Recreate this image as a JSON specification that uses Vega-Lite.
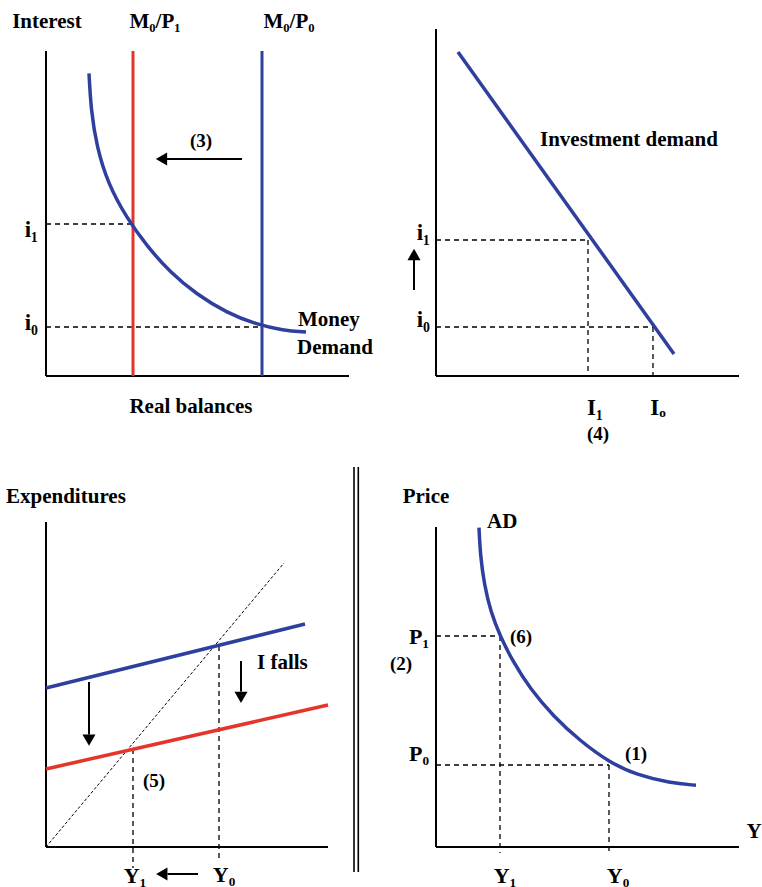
{
  "$schema": "https://vega.github.io/schema/vega-lite/v6.json",
  "padding": 0,
  "config": {
    "view": {"stroke": null},
    "concat": {"spacing": 0},
    "text": {"font": "Times New Roman, Liberation Serif, DejaVu Serif, serif", "fontWeight": "bold", "fontSize": 21, "color": "black", "baseline": "middle"}
  },
  "vconcat": [
    {
      "spacing": 0,
      "hconcat": [
        {
          "width": 381, "height": 443,
          "encoding": {
            "x": {"field": "x", "type": "quantitative", "scale": {"domain": [-15.333, 111.667], "nice": false, "zero": false}, "axis": null},
            "y": {"field": "y", "type": "quantitative", "scale": {"domain": [-22.333, 125.333], "nice": false, "zero": false}, "axis": null}
          },
          "layer": [
            {"data": {"values": [{"x": 0, "y": 0, "x2": 0, "y2": 108.33}, {"x": 0, "y": 0, "x2": 101, "y2": 0}]},
             "mark": {"type": "rule", "strokeWidth": 2, "color": "black"},
             "encoding": {"x2": {"field": "x2"}, "y2": {"field": "y2"}}},
            {"data": {"values": [{"x": 0, "y": 50.67, "x2": 29, "y2": 50.67}, {"x": 0, "y": 16.33, "x2": 72, "y2": 16.33}]},
             "mark": {"type": "rule", "strokeWidth": 1.3, "color": "black", "strokeDash": [5, 4]},
             "encoding": {"x2": {"field": "x2"}, "y2": {"field": "y2"}}},
            {"data": {"values": [{"x": 29, "y": 0, "x2": 29, "y2": 108.33}]},
             "mark": {"type": "rule", "strokeWidth": 3, "color": "#E5352B"},
             "encoding": {"x2": {"field": "x2"}, "y2": {"field": "y2"}}},
            {"data": {"values": [{"x": 72, "y": 0, "x2": 72, "y2": 108.33}]},
             "mark": {"type": "rule", "strokeWidth": 3, "color": "#2F3F9E"},
             "encoding": {"x2": {"field": "x2"}, "y2": {"field": "y2"}}},
            {"data": {"values": [
              {"x": 14.33, "y": 100.9}, {"x": 15.0, "y": 88.67}, {"x": 16.9, "y": 76.43}, {"x": 20.6, "y": 64.23},
              {"x": 27.0, "y": 52.5}, {"x": 33.57, "y": 43.4}, {"x": 41.33, "y": 34.6}, {"x": 50.23, "y": 27.2},
              {"x": 60.23, "y": 21.1}, {"x": 70, "y": 17.2}, {"x": 79.1, "y": 15.2}, {"x": 86.67, "y": 14.67}]},
             "mark": {"type": "line", "strokeWidth": 3.5, "color": "#2F3F9E", "interpolate": "basis"},
             "encoding": {"order": {"field": "x", "type": "quantitative"}}},
            {"data": {"values": [{"x": 65.33, "y": 72.33, "x2": 40, "y2": 72.33}]},
             "mark": {"type": "rule", "strokeWidth": 2, "color": "black"},
             "encoding": {"x2": {"field": "x2"}, "y2": {"field": "y2"}}},
            {"data": {"values": [{"x": 38.5, "y": 72.33, "dir": "left"}]},
             "mark": {"type": "point", "filled": true, "color": "black", "size": 170, "opacity": 1},
             "encoding": {"shape": {"field": "dir", "type": "nominal", "scale": {"domain": ["left", "up", "down"], "range": ["triangle-left", "triangle-up", "triangle-down"]}, "legend": null}}},
            {"data": {"values": [
              {"x": 0.33, "y": 118, "t": "Interest"}, {"x": 36.33, "y": 118, "t": "M₀/P₁"}, {"x": 81, "y": 118, "t": "M₀/P₀"},
              {"x": 48.33, "y": -10.33, "t": "Real balances"}]},
             "mark": {"type": "text", "align": "center"},
             "encoding": {"text": {"field": "t"}}},
            {"data": {"values": [{"x": 51.67, "y": 78.33, "t": "(3)"}]},
             "mark": {"type": "text", "align": "center", "fontSize": 19},
             "encoding": {"text": {"field": "t"}}},
            {"data": {"values": [{"x": -2.67, "y": 48.67, "t": "i₁"}, {"x": -2.67, "y": 17.67, "t": "i₀"}]},
             "mark": {"type": "text", "align": "right", "fontSize": 23},
             "encoding": {"text": {"field": "t"}}},
            {"data": {"values": [{"x": 84, "y": 18.67, "t": "Money"}, {"x": 83.67, "y": 9.33, "t": "Demand"}]},
             "mark": {"type": "text", "align": "left"},
             "encoding": {"text": {"field": "t"}}}
          ]
        },
        {
          "width": 381, "height": 443,
          "encoding": {
            "x": {"field": "x", "type": "quantitative", "scale": {"domain": [-18.333, 108.667], "nice": false, "zero": false}, "axis": null},
            "y": {"field": "y", "type": "quantitative", "scale": {"domain": [-22.333, 125.333], "nice": false, "zero": false}, "axis": null}
          },
          "layer": [
            {"data": {"values": [{"x": 0, "y": 0, "x2": 0, "y2": 115.67}, {"x": 0, "y": 0, "x2": 101, "y2": 0}]},
             "mark": {"type": "rule", "strokeWidth": 2, "color": "black"},
             "encoding": {"x2": {"field": "x2"}, "y2": {"field": "y2"}}},
            {"data": {"values": [
              {"x": 0, "y": 45.33, "x2": 50.67, "y2": 45.33}, {"x": 50.67, "y": 45.33, "x2": 50.67, "y2": 0},
              {"x": 0, "y": 16.33, "x2": 72.33, "y2": 16.33}, {"x": 72.33, "y": 16.33, "x2": 72.33, "y2": 0}]},
             "mark": {"type": "rule", "strokeWidth": 1.3, "color": "black", "strokeDash": [5, 4]},
             "encoding": {"x2": {"field": "x2"}, "y2": {"field": "y2"}}},
            {"data": {"values": [{"x": 7.33, "y": 108, "x2": 79.33, "y2": 7.33}]},
             "mark": {"type": "rule", "strokeWidth": 3.5, "color": "#2F3F9E"},
             "encoding": {"x2": {"field": "x2"}, "y2": {"field": "y2"}}},
            {"data": {"values": [{"x": -7.33, "y": 28.67, "x2": -7.33, "y2": 39}]},
             "mark": {"type": "rule", "strokeWidth": 2, "color": "black"},
             "encoding": {"x2": {"field": "x2"}, "y2": {"field": "y2"}}},
            {"data": {"values": [{"x": -7.33, "y": 40.5, "dir": "up"}]},
             "mark": {"type": "point", "filled": true, "color": "black", "size": 170, "opacity": 1},
             "encoding": {"shape": {"field": "dir", "type": "nominal", "scale": {"domain": ["left", "up", "down"], "range": ["triangle-left", "triangle-up", "triangle-down"]}, "legend": null}}},
            {"data": {"values": [
              {"x": 64.33, "y": 78.67, "t": "Investment demand"}]},
             "mark": {"type": "text", "align": "center"},
             "encoding": {"text": {"field": "t"}}},
            {"data": {"values": [{"x": 53, "y": -10.67, "t": "I₁"}, {"x": 74, "y": -10.67, "t": "Iₒ"}]},
             "mark": {"type": "text", "align": "center", "fontSize": 23},
             "encoding": {"text": {"field": "t"}}},
            {"data": {"values": [{"x": 54, "y": -19.3, "t": "(4)"}]},
             "mark": {"type": "text", "align": "center", "fontSize": 19},
             "encoding": {"text": {"field": "t"}}},
            {"data": {"values": [{"x": -2, "y": 47.67, "t": "i₁"}, {"x": -2, "y": 18.67, "t": "i₀"}]},
             "mark": {"type": "text", "align": "right", "fontSize": 23},
             "encoding": {"text": {"field": "t"}}}
          ]
        }
      ]
    },
    {
      "spacing": 0,
      "hconcat": [
        {
          "width": 381, "height": 444,
          "encoding": {
            "x": {"field": "x", "type": "quantitative", "scale": {"domain": [-15.333, 111.667], "nice": false, "zero": false}, "axis": null},
            "y": {"field": "y", "type": "quantitative", "scale": {"domain": [-13.667, 134.333], "nice": false, "zero": false}, "axis": null}
          },
          "layer": [
            {"data": {"values": [{"x": 0, "y": 0, "x2": 0, "y2": 108.33}, {"x": 0, "y": 0, "x2": 94, "y2": 0}]},
             "mark": {"type": "rule", "strokeWidth": 2, "color": "black"},
             "encoding": {"x2": {"field": "x2"}, "y2": {"field": "y2"}}},
            {"data": {"values": [{"x": 102.67, "y": -8.33, "x2": 102.67, "y2": 126.67}, {"x": 104.1, "y": -8.33, "x2": 104.1, "y2": 126.67}]},
             "mark": {"type": "rule", "strokeWidth": 1.6, "color": "black"},
             "encoding": {"x2": {"field": "x2"}, "y2": {"field": "y2"}}},
            {"data": {"values": [{"x": 0, "y": 0, "x2": 79.33, "y2": 94.67}]},
             "mark": {"type": "rule", "strokeWidth": 1, "color": "black", "strokeDash": [3, 2]},
             "encoding": {"x2": {"field": "x2"}, "y2": {"field": "y2"}}},
            {"data": {"values": [{"x": 57.67, "y": 67, "x2": 57.67, "y2": -4}, {"x": 29, "y": 32.67, "x2": 29, "y2": -7}]},
             "mark": {"type": "rule", "strokeWidth": 1.3, "color": "black", "strokeDash": [5, 4]},
             "encoding": {"x2": {"field": "x2"}, "y2": {"field": "y2"}}},
            {"data": {"values": [{"x": 0, "y": 53, "x2": 86.33, "y2": 74.33}]},
             "mark": {"type": "rule", "strokeWidth": 3.5, "color": "#2F3F9E"},
             "encoding": {"x2": {"field": "x2"}, "y2": {"field": "y2"}}},
            {"data": {"values": [{"x": 0, "y": 26, "x2": 94, "y2": 47.33}]},
             "mark": {"type": "rule", "strokeWidth": 3.5, "color": "#E5352B"},
             "encoding": {"x2": {"field": "x2"}, "y2": {"field": "y2"}}},
            {"data": {"values": [
              {"x": 14.33, "y": 55, "x2": 14.33, "y2": 37.5},
              {"x": 65, "y": 62, "x2": 65, "y2": 51.8},
              {"x": 50.67, "y": -9, "x2": 40.5, "y2": -9}]},
             "mark": {"type": "rule", "strokeWidth": 2, "color": "black"},
             "encoding": {"x2": {"field": "x2"}, "y2": {"field": "y2"}}},
            {"data": {"values": [
              {"x": 14.33, "y": 35.6, "dir": "down"},
              {"x": 65, "y": 49.9, "dir": "down"},
              {"x": 38.6, "y": -9, "dir": "left"}]},
             "mark": {"type": "point", "filled": true, "color": "black", "size": 170, "opacity": 1},
             "encoding": {"shape": {"field": "dir", "type": "nominal", "scale": {"domain": ["left", "up", "down"], "range": ["triangle-left", "triangle-up", "triangle-down"]}, "legend": null}}},
            {"data": {"values": [{"x": -13.33, "y": 116.67, "t": "Expenditures"}, {"x": 70.33, "y": 61.33, "t": "I falls"}]},
             "mark": {"type": "text", "align": "left"},
             "encoding": {"text": {"field": "t"}}},
            {"data": {"values": [{"x": 36, "y": 22, "t": "(5)"}]},
             "mark": {"type": "text", "align": "center", "fontSize": 19},
             "encoding": {"text": {"field": "t"}}},
            {"data": {"values": [{"x": 29.67, "y": -9.6, "t": "Y₁"}, {"x": 59.33, "y": -9.5, "t": "Y₀"}]},
             "mark": {"type": "text", "align": "center", "fontSize": 22},
             "encoding": {"text": {"field": "t"}}}
          ]
        },
        {
          "width": 381, "height": 444,
          "encoding": {
            "x": {"field": "x", "type": "quantitative", "scale": {"domain": [-18.333, 108.667], "nice": false, "zero": false}, "axis": null},
            "y": {"field": "y", "type": "quantitative", "scale": {"domain": [-13.667, 134.333], "nice": false, "zero": false}, "axis": null}
          },
          "layer": [
            {"data": {"values": [{"x": 0, "y": 0, "x2": 0, "y2": 106.67}, {"x": 0, "y": 0, "x2": 101, "y2": 0}]},
             "mark": {"type": "rule", "strokeWidth": 2, "color": "black"},
             "encoding": {"x2": {"field": "x2"}, "y2": {"field": "y2"}}},
            {"data": {"values": [
              {"x": 0, "y": 70.33, "x2": 21.33, "y2": 70.33}, {"x": 21.33, "y": 70.33, "x2": 21.33, "y2": -2},
              {"x": 0, "y": 27.33, "x2": 57.67, "y2": 27.33}, {"x": 57.67, "y": 27.33, "x2": 57.67, "y2": -2}]},
             "mark": {"type": "rule", "strokeWidth": 1.3, "color": "black", "strokeDash": [5, 4]},
             "encoding": {"x2": {"field": "x2"}, "y2": {"field": "y2"}}},
            {"data": {"values": [
              {"x": 14.33, "y": 106.43}, {"x": 14.8, "y": 97}, {"x": 16.1, "y": 87.5}, {"x": 18.2, "y": 78.5},
              {"x": 21.33, "y": 70.33}, {"x": 25.77, "y": 61.6}, {"x": 31.33, "y": 52.8}, {"x": 39.1, "y": 43.6},
              {"x": 48, "y": 35.4}, {"x": 57.67, "y": 28.3}, {"x": 66.9, "y": 24.0}, {"x": 78, "y": 21.4}, {"x": 86.67, "y": 20.57}]},
             "mark": {"type": "line", "strokeWidth": 3.5, "color": "#2F3F9E", "interpolate": "basis"},
             "encoding": {"order": {"field": "x", "type": "quantitative"}}},
            {"data": {"values": [
              {"x": -3.33, "y": 116.67, "t": "Price"}, {"x": 106, "y": 5, "t": "Y"}]},
             "mark": {"type": "text", "align": "center"},
             "encoding": {"text": {"field": "t"}}},
            {"data": {"values": [{"x": 23, "y": -9.6, "t": "Y₁"}, {"x": 60.67, "y": -9.6, "t": "Y₀"}]},
             "mark": {"type": "text", "align": "center", "fontSize": 22},
             "encoding": {"text": {"field": "t"}}},
            {"data": {"values": [{"x": -11.67, "y": 61, "t": "(2)"}, {"x": 66.67, "y": 31, "t": "(1)"}]},
             "mark": {"type": "text", "align": "center", "fontSize": 19},
             "encoding": {"text": {"field": "t"}}},
            {"data": {"values": [{"x": 24.67, "y": 70, "t": "(6)"}]},
             "mark": {"type": "text", "align": "left", "fontSize": 19},
             "encoding": {"text": {"field": "t"}}},
            {"data": {"values": [{"x": 17, "y": 108.33, "t": "AD"}]},
             "mark": {"type": "text", "align": "left"},
             "encoding": {"text": {"field": "t"}}},
            {"data": {"values": [{"x": -2.33, "y": 70, "t": "P₁"}, {"x": -2.33, "y": 31, "t": "P₀"}]},
             "mark": {"type": "text", "align": "right", "fontSize": 22},
             "encoding": {"text": {"field": "t"}}}
          ]
        }
      ]
    }
  ]
}
